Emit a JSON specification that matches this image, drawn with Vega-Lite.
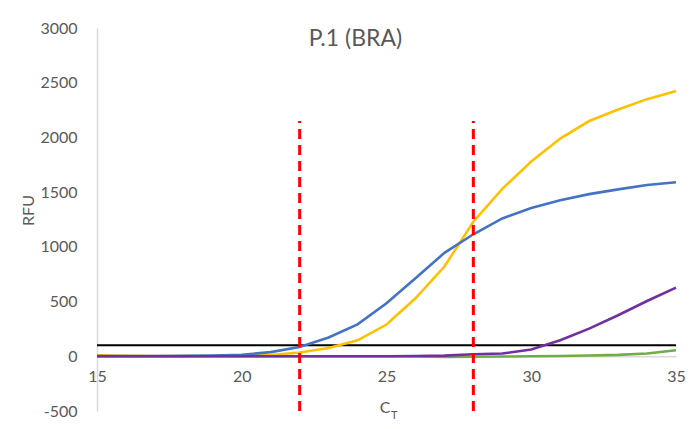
{
  "$schema": "https://vega.github.io/schema/vega-lite/v6.json",
  "autosize": {"type": "none"},
  "width": 579,
  "height": 383,
  "padding": {"left": 97, "top": 28, "right": 18, "bottom": 18},
  "background": "white",
  "config": {
    "view": {"stroke": null},
    "font": "Lato"
  },
  "title": {
    "text": "P.1 (BRA)",
    "anchor": "middle",
    "frame": "group",
    "offset": -31,
    "dx": -31,
    "fontSize": 23,
    "fontWeight": "normal",
    "color": "#595959",
    "font": "Lato"
  },
  "datasets": {
    "curves": [
      {"ct": 15, "rfu": 8, "s": "yellow"}, {"ct": 16, "rfu": 4, "s": "yellow"}, {"ct": 17, "rfu": 3, "s": "yellow"}, {"ct": 18, "rfu": 3, "s": "yellow"}, {"ct": 19, "rfu": 3, "s": "yellow"}, {"ct": 20, "rfu": 5, "s": "yellow"}, {"ct": 21, "rfu": 12, "s": "yellow"}, {"ct": 22, "rfu": 35, "s": "yellow"}, {"ct": 23, "rfu": 76, "s": "yellow"}, {"ct": 24, "rfu": 146, "s": "yellow"}, {"ct": 25, "rfu": 290, "s": "yellow"}, {"ct": 26, "rfu": 530, "s": "yellow"}, {"ct": 27, "rfu": 820, "s": "yellow"}, {"ct": 28, "rfu": 1230, "s": "yellow"}, {"ct": 29, "rfu": 1530, "s": "yellow"}, {"ct": 30, "rfu": 1780, "s": "yellow"}, {"ct": 31, "rfu": 1990, "s": "yellow"}, {"ct": 32, "rfu": 2150, "s": "yellow"}, {"ct": 33, "rfu": 2255, "s": "yellow"}, {"ct": 34, "rfu": 2350, "s": "yellow"}, {"ct": 35, "rfu": 2425, "s": "yellow"},
      {"ct": 15, "rfu": 2, "s": "blue"}, {"ct": 16, "rfu": 2, "s": "blue"}, {"ct": 17, "rfu": 2, "s": "blue"}, {"ct": 18, "rfu": 4, "s": "blue"}, {"ct": 19, "rfu": 7, "s": "blue"}, {"ct": 20, "rfu": 14, "s": "blue"}, {"ct": 21, "rfu": 38, "s": "blue"}, {"ct": 22, "rfu": 85, "s": "blue"}, {"ct": 23, "rfu": 172, "s": "blue"}, {"ct": 24, "rfu": 292, "s": "blue"}, {"ct": 25, "rfu": 485, "s": "blue"}, {"ct": 26, "rfu": 713, "s": "blue"}, {"ct": 27, "rfu": 945, "s": "blue"}, {"ct": 28, "rfu": 1115, "s": "blue"}, {"ct": 29, "rfu": 1260, "s": "blue"}, {"ct": 30, "rfu": 1355, "s": "blue"}, {"ct": 31, "rfu": 1425, "s": "blue"}, {"ct": 32, "rfu": 1482, "s": "blue"}, {"ct": 33, "rfu": 1525, "s": "blue"}, {"ct": 34, "rfu": 1565, "s": "blue"}, {"ct": 35, "rfu": 1590, "s": "blue"},
      {"ct": 15, "rfu": 0, "s": "green"}, {"ct": 16, "rfu": 0, "s": "green"}, {"ct": 17, "rfu": 0, "s": "green"}, {"ct": 18, "rfu": 0, "s": "green"}, {"ct": 19, "rfu": 0, "s": "green"}, {"ct": 20, "rfu": 0, "s": "green"}, {"ct": 21, "rfu": 0, "s": "green"}, {"ct": 22, "rfu": 0, "s": "green"}, {"ct": 23, "rfu": 0, "s": "green"}, {"ct": 24, "rfu": 0, "s": "green"}, {"ct": 25, "rfu": 0, "s": "green"}, {"ct": 26, "rfu": -2, "s": "green"}, {"ct": 27, "rfu": -6, "s": "green"}, {"ct": 28, "rfu": -4, "s": "green"}, {"ct": 29, "rfu": -2, "s": "green"}, {"ct": 30, "rfu": 0, "s": "green"}, {"ct": 31, "rfu": 3, "s": "green"}, {"ct": 32, "rfu": 7, "s": "green"}, {"ct": 33, "rfu": 13, "s": "green"}, {"ct": 34, "rfu": 25, "s": "green"}, {"ct": 35, "rfu": 55, "s": "green"},
      {"ct": 15, "rfu": 0, "s": "purple"}, {"ct": 16, "rfu": 0, "s": "purple"}, {"ct": 17, "rfu": 0, "s": "purple"}, {"ct": 18, "rfu": 0, "s": "purple"}, {"ct": 19, "rfu": 0, "s": "purple"}, {"ct": 20, "rfu": 0, "s": "purple"}, {"ct": 21, "rfu": 0, "s": "purple"}, {"ct": 22, "rfu": 0, "s": "purple"}, {"ct": 23, "rfu": 0, "s": "purple"}, {"ct": 24, "rfu": 0, "s": "purple"}, {"ct": 25, "rfu": 0, "s": "purple"}, {"ct": 26, "rfu": 2, "s": "purple"}, {"ct": 27, "rfu": 6, "s": "purple"}, {"ct": 28, "rfu": 18, "s": "purple"}, {"ct": 29, "rfu": 25, "s": "purple"}, {"ct": 30, "rfu": 62, "s": "purple"}, {"ct": 31, "rfu": 146, "s": "purple"}, {"ct": 32, "rfu": 253, "s": "purple"}, {"ct": 33, "rfu": 375, "s": "purple"}, {"ct": 34, "rfu": 505, "s": "purple"}, {"ct": 35, "rfu": 628, "s": "purple"}
    ],
    "threshold": [{"x1": 15, "x2": 35, "level": 100}],
    "cutoffs": [{"ct": 22, "lo": -500, "hi": 2150}, {"ct": 28, "lo": -500, "hi": 2150}],
    "labels": [
      {"ct": 24.95, "rfu": -475, "t": "C", "k": "main"},
      {"ct": 25.27, "rfu": -548, "t": "T", "k": "sub"}
    ]
  },
  "layer": [
    {
      "data": {"name": "threshold"},
      "mark": {"type": "rule", "color": "#000000", "strokeWidth": 2},
      "encoding": {
        "y": {"field": "level", "type": "quantitative", "scale": {"domain": [-500, 3000], "nice": false, "zero": false}},
        "x": {"field": "x1", "type": "quantitative", "scale": {"domain": [15, 35], "nice": false, "zero": false}},
        "x2": {"field": "x2"}
      }
    },
    {
      "data": {"name": "curves"},
      "mark": {"type": "line", "strokeWidth": 2.6, "clip": false},
      "encoding": {
        "x": {
          "field": "ct", "type": "quantitative",
          "scale": {"domain": [15, 35], "nice": false, "zero": false},
          "axis": {
            "title": null,
            "values": [15, 20, 25, 30, 35],
            "offset": -54.7,
            "grid": false,
            "ticks": false,
            "domainColor": "#D9D9D9",
            "domainWidth": 1.5,
            "labelFontSize": 16,
            "labelColor": "#595959",
            "labelPadding": 12,
            "labelFlush": false
          }
        },
        "y": {
          "field": "rfu", "type": "quantitative",
          "scale": {"domain": [-500, 3000], "nice": false, "zero": false},
          "axis": {
            "title": "RFU",
            "values": [-500, 0, 500, 1000, 1500, 2000, 2500, 3000],
            "labelExpr": "'' + datum.value",
            "grid": false,
            "ticks": false,
            "domainColor": "#D9D9D9",
            "domainWidth": 1.5,
            "labelFontSize": 16,
            "labelColor": "#595959",
            "labelPadding": 20,
            "titleFontSize": 16,
            "titleFontWeight": "normal",
            "titleColor": "#595959",
            "titleX": -69,
            "titleY": 182,
            "titleAngle": -90,
            "titleAlign": "center",
            "titleBaseline": "middle"
          }
        },
        "detail": {"field": "s"},
        "order": {"field": "ct"},
        "color": {
          "field": "s", "type": "nominal",
          "scale": {"domain": ["yellow", "blue", "green", "purple"], "range": ["#FFC000", "#4472C4", "#70AD47", "#7030A0"]},
          "legend": null
        }
      }
    },
    {
      "data": {"name": "cutoffs"},
      "mark": {"type": "rule", "color": "#FF0000", "strokeWidth": 3, "strokeDash": [10, 6]},
      "encoding": {
        "x": {"field": "ct", "type": "quantitative"},
        "y": {"field": "lo", "type": "quantitative"},
        "y2": {"field": "hi"}
      }
    },
    {
      "data": {"name": "labels"},
      "mark": {"type": "text", "color": "#595959", "align": "center", "baseline": "middle"},
      "encoding": {
        "x": {"field": "ct", "type": "quantitative"},
        "y": {"field": "rfu", "type": "quantitative"},
        "text": {"field": "t"},
        "size": {"field": "k", "type": "nominal", "scale": {"domain": ["main", "sub"], "range": [16, 11]}, "legend": null}
      }
    }
  ]
}
